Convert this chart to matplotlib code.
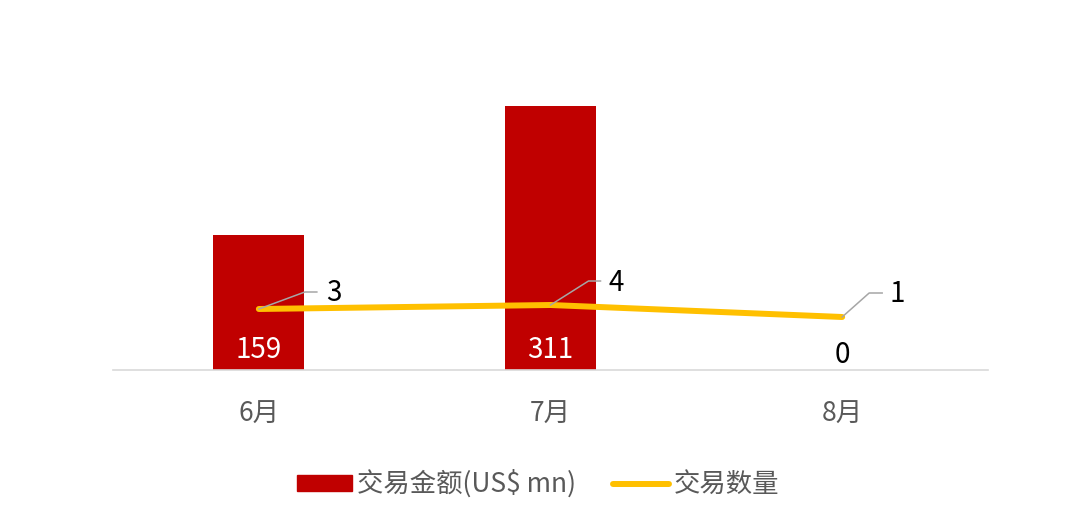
import matplotlib
matplotlib.use("Agg")
import matplotlib.pyplot as plt
from matplotlib.lines import Line2D
import numpy as np

plt.rcParams['font.family'] = ['Noto Sans CJK SC', 'DejaVu Sans']

categories = ['6月', '7月', '8月']
amount = [159, 311, 0]          # 交易金额(US$ mn)
count = [3, 4, 1]               # 交易数量
amount_labels = ['159', '311', '0']
count_labels = ['3', '4', '1']

RED = '#C00000'
YELLOW = '#FFC000'
GRAY_TXT = '#595959'

W, H = 1080, 528
fig = plt.figure(figsize=(W / 100, H / 100), dpi=100)
ax = fig.add_axes([113 / W, (H - 370) / H, 875 / W, 320 / H])
ax2 = ax.twinx()

x = np.arange(len(categories))
ax.bar(x, amount, width=0.312, color=RED, zorder=2)
ax.set_xlim(-0.5, 2.5)
ax.set_ylim(0, 377)
ax2.set_ylim(-12.25, 67.75)

ax2.plot(x, count, color=YELLOW, lw=4.3, solid_capstyle='round', zorder=3)

for a in (ax, ax2):
    for s in a.spines.values():
        s.set_visible(False)
    a.set_yticks([])
ax.spines['bottom'].set_visible(True)
ax.spines['bottom'].set_color('#D9D9D9')
ax.spines['bottom'].set_linewidth(1.2)
ax.set_xticks(x)
ax.set_xticklabels(categories, fontsize=19, color=GRAY_TXT)
ax.tick_params(axis='x', length=0, pad=22.5)

# bar value labels
for i, (v, lab) in enumerate(zip(amount, amount_labels)):
    col = 'white' if v > 0 else 'black'
    dy = 20 if v > 0 else 15
    ax.annotate(lab, xy=(i, 0), xytext=(0, dy), textcoords='offset pixels',
                ha='center', va='center', fontsize=20, color=col, zorder=4)

# line value labels with leader lines
leader = [((46, 17), (58, 17), (75, 16)),
          ((38, 24), (50, 24), (66, 22)),
          ((27, 24), (40, 24), (55, 23))]
fig.canvas.draw()
inv = fig.transFigure.inverted()
for i, (v, lab) in enumerate(zip(count, count_labels)):
    px, py = ax2.transData.transform((i, v))
    (b1x, b1y), (b2x, b2y), (tx, ty) = leader[i]
    pts = np.array([[px, py], [px + b1x, py + b1y], [px + b2x, py + b2y]])
    fp = inv.transform(pts)
    fig.add_artist(Line2D(fp[:, 0], fp[:, 1], color='#A6A6A6', lw=1.1, zorder=5))
    ax2.annotate(lab, xy=(i, v), xytext=(tx, ty), textcoords='offset pixels',
                 ha='center', va='center', fontsize=20, color='black', zorder=5)

handles = [plt.Rectangle((0, 0), 1, 1, color=RED),
           Line2D([0], [0], color=YELLOW, lw=4.3, solid_capstyle='round')]
fig.legend(handles, ['交易金额(US$ mn)', '交易数量'], loc='center',
           bbox_to_anchor=(538 / W, 1 - 484 / H), ncol=2, frameon=False,
           fontsize=19, labelcolor=GRAY_TXT, handlelength=2.1, handleheight=0.53,
           handletextpad=0.2, columnspacing=1.4)

fig.savefig('out.png', dpi=100)
